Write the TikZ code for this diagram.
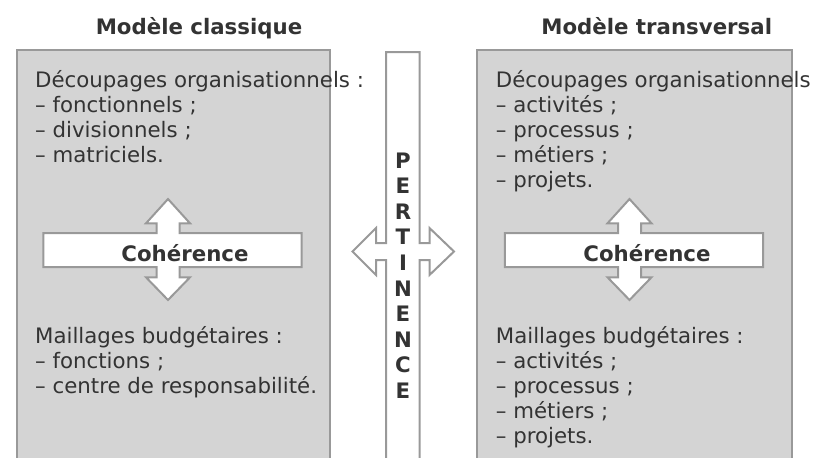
\documentclass[tikz,border=0pt]{standalone}
\usepackage{fontspec}
\setmainfont{DejaVu Sans}
\definecolor{boxfill}{HTML}{D4D4D4}
\definecolor{edgegray}{HTML}{999999}
\definecolor{ink}{HTML}{333333}
\begin{document}
\begin{tikzpicture}[x=1pt,y=-1pt,
  txt/.style={inner sep=0pt, anchor=base west, text=ink, font=\fontsize{21.3}{25}\selectfont},
  ttl/.style={inner sep=0pt, anchor=base, text=ink, font=\fontsize{21.3}{25}\selectfont\bfseries},
  panel/.style={fill=boxfill, draw=edgegray, line width=2pt},
  arrowshape/.style={fill=white, draw=edgegray, line width=2pt, line join=miter}]
\useasboundingbox (0,0) rectangle (825,458);
\clip (0,0) rectangle (825,458);
% panels
\path[panel] (17,475) rectangle (330,50);
\path[panel] (477.3,475) rectangle (791.7,50);
% central pertinence bar with side arrows
\path[arrowshape] (386,52) -- (419.5,52) -- (419.5,243) -- (429.5,243) -- (429.5,228)
  -- (454,251.5) -- (429.5,275) -- (429.5,260) -- (419.5,260) -- (419.5,475)
  -- (386,475) -- (386,260) -- (376,260) -- (376,275) -- (352.5,251.5)
  -- (376,228) -- (376,243) -- (386,243) -- cycle;
% coherence crosses
\foreach \dx in {0,461.5}{
\begin{scope}[xshift=\dx pt]
\path[arrowshape] (43.3,233) -- (156.5,233) -- (156.5,223.3) -- (146,223.3) -- (168,199)
  -- (190,223.3) -- (179.5,223.3) -- (179.5,233) -- (301.7,233) -- (301.7,267)
  -- (179.5,267) -- (179.5,277.3) -- (190,277.3) -- (168,300) -- (146,277.3)
  -- (156.5,277.3) -- (156.5,267) -- (43.3,267) -- cycle;
\end{scope}}
% titles
\node[ttl] (t1) at (199,34.3) {Modèle classique};
\node[ttl] (t2) at (656.7,34.3) {Modèle transversal};
\node[ttl] (c1) at (185,261) {Cohérence};
\node[ttl] (c2) at (647,261) {Cohérence};
% pertinence letters
\node[ttl] (p1) at (403,168) {P};
\node[ttl] (p2) at (403,193.6) {E};
\node[ttl] (p3) at (403,219.2) {R};
\node[ttl] (p4) at (403,244.8) {T};
\node[ttl] (p5) at (403,270.4) {I};
\node[ttl] (p6) at (403,296) {N};
\node[ttl] (p7) at (403,321.6) {E};
\node[ttl] (p8) at (403,347.2) {N};
\node[ttl] (p9) at (403,372.8) {C};
\node[ttl] (p10) at (403,398.4) {E};
% left texts
\node[txt] (l1) at (35,87.5) {Découpages organisationnels :};
\node[txt] (l2) at (35,112.5) {– fonctionnels ;};
\node[txt] (l3) at (35,137.5) {– divisionnels ;};
\node[txt] (l4) at (35,162.5) {– matriciels.};
\node[txt] (l5) at (35,343.3) {Maillages budgétaires :};
\node[txt] (l6) at (35,368.3) {– fonctions ;};
\node[txt] (l7) at (35,393.3) {– centre de responsabilité.};
% right texts
\node[txt] (r1) at (495.7,87.5) {Découpages organisationnels};
\node[txt] (r2) at (495.7,112.5) {– activités ;};
\node[txt] (r3) at (495.7,137.5) {– processus ;};
\node[txt] (r4) at (495.7,162.5) {– métiers ;};
\node[txt] (r5) at (495.7,187.5) {– projets.};
\node[txt] (r6) at (495.7,343.3) {Maillages budgétaires :};
\node[txt] (r7) at (495.7,368.3) {– activités ;};
\node[txt] (r8) at (495.7,393.3) {– processus ;};
\node[txt] (r9) at (495.7,418.3) {– métiers ;};
\node[txt] (r10) at (495.7,443.3) {– projets.};
\end{tikzpicture}
\end{document}
